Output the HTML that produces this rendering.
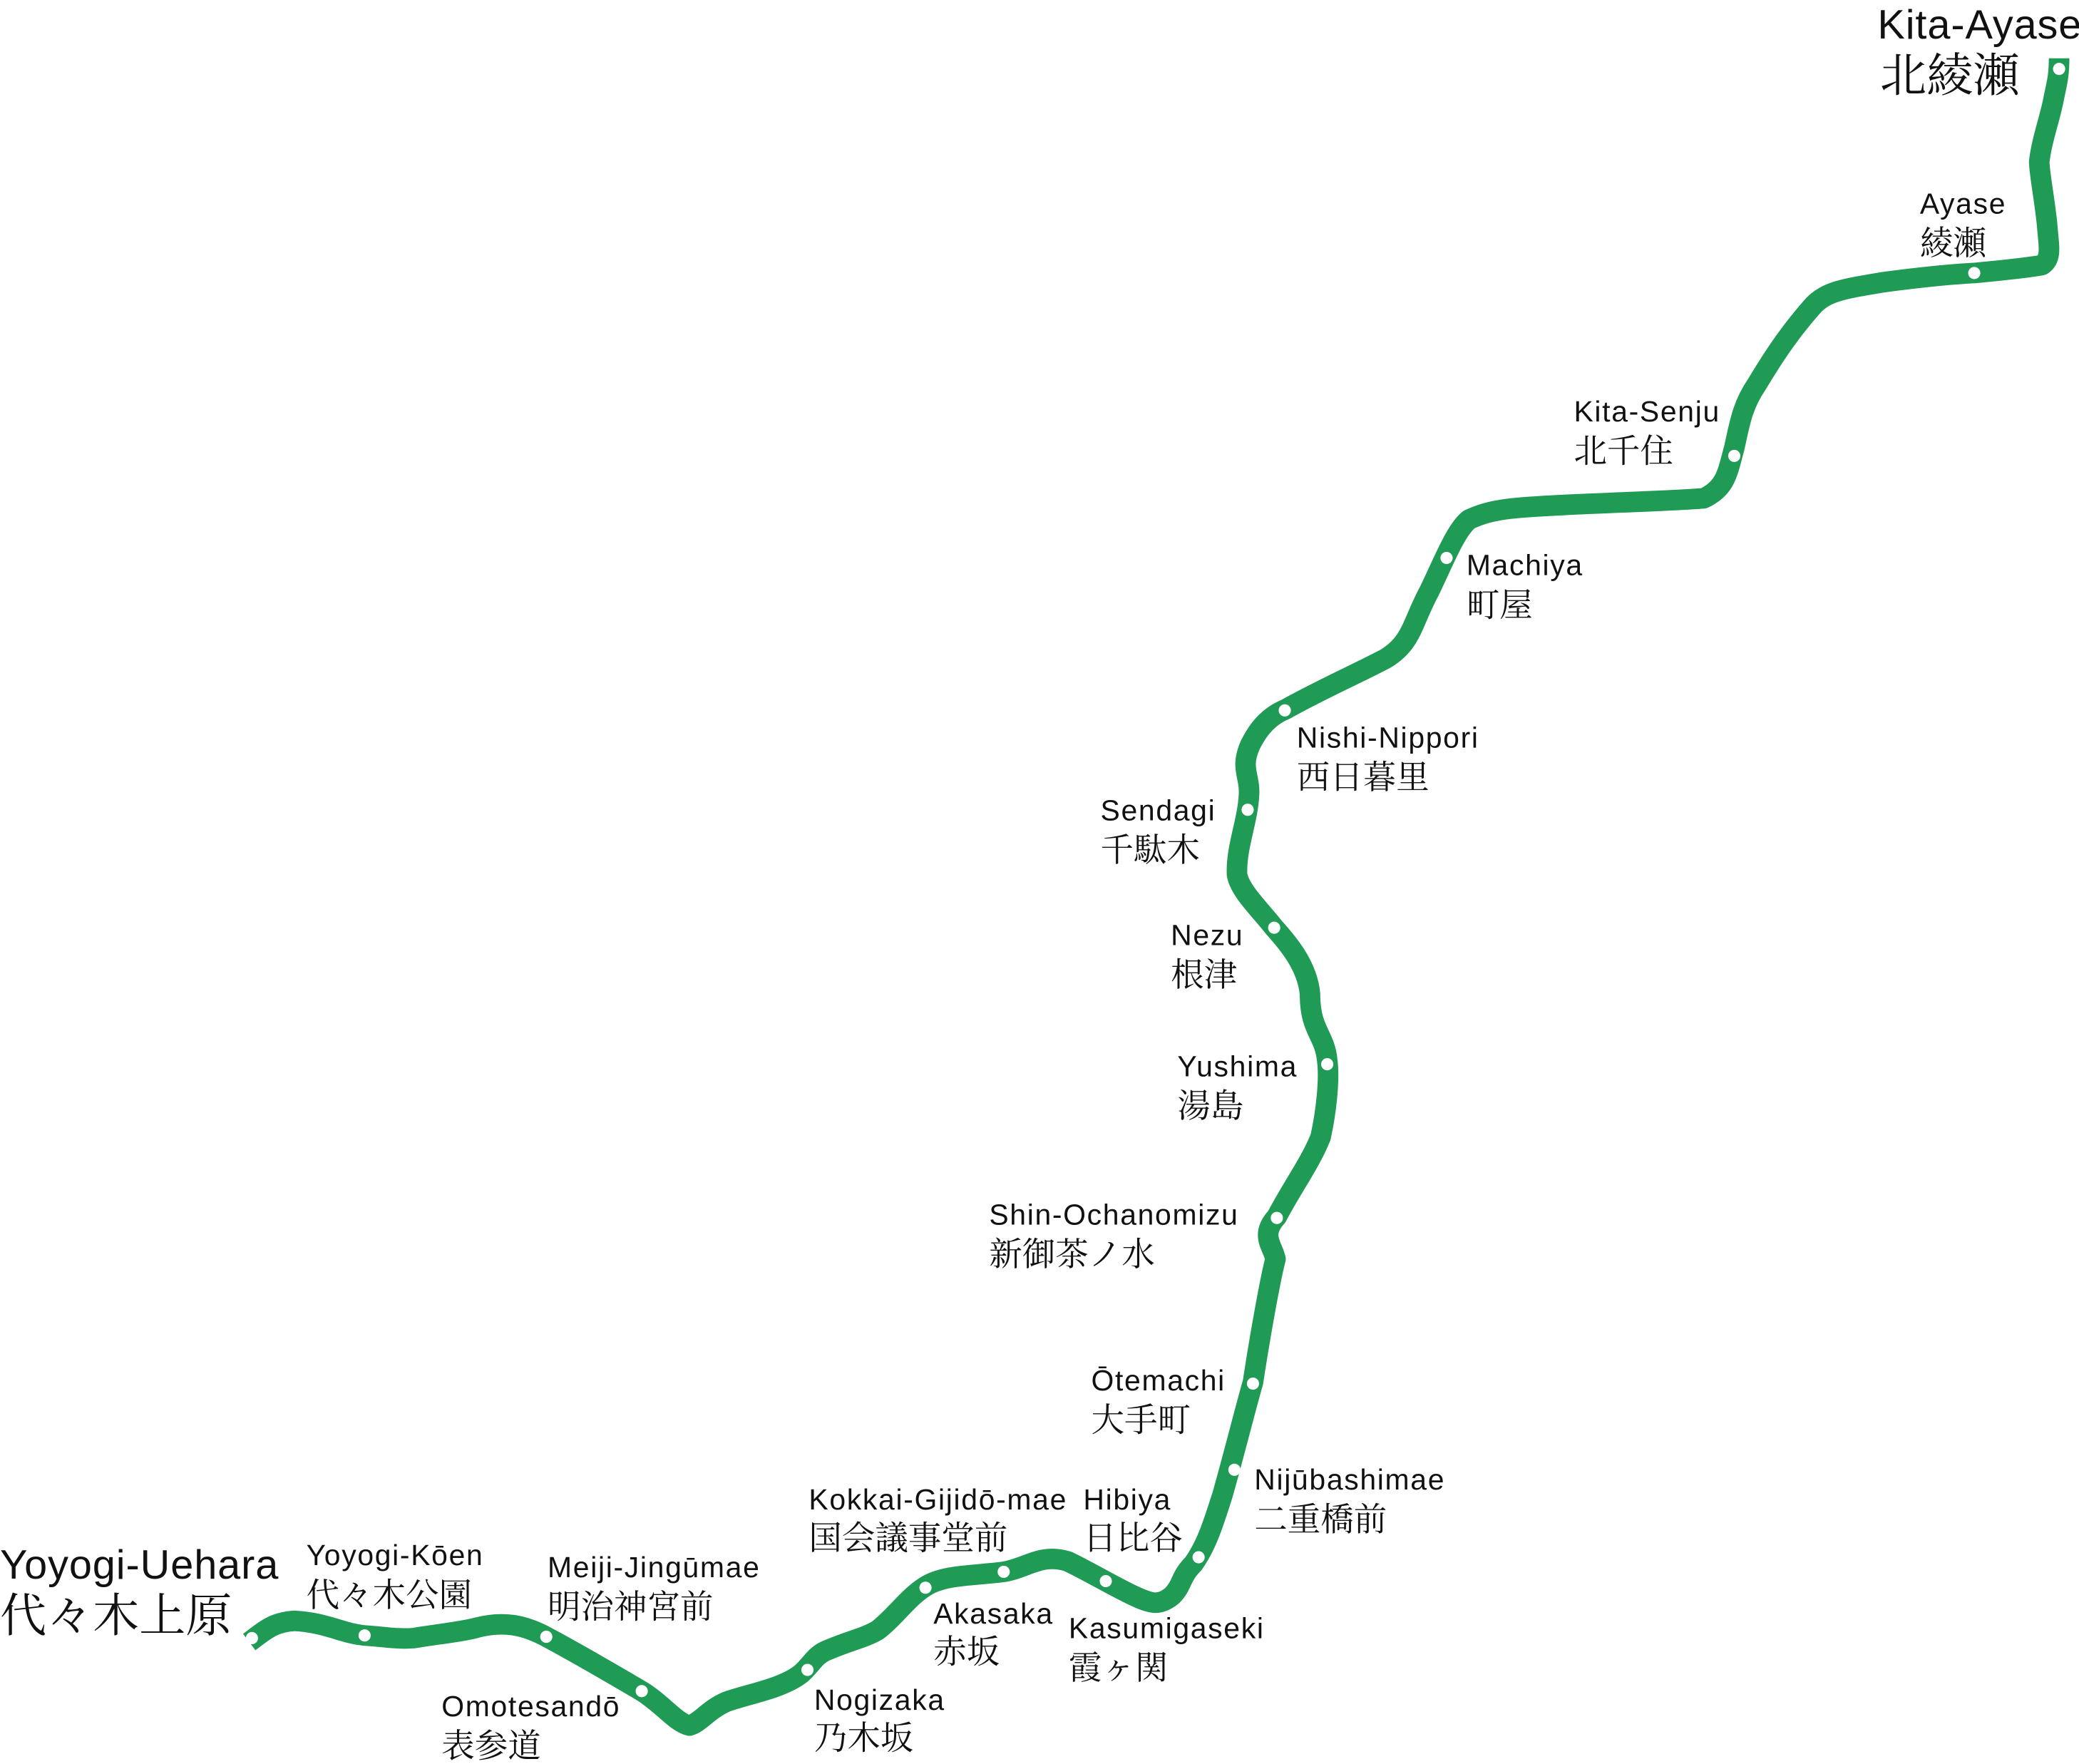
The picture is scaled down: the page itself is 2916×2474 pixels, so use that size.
<!DOCTYPE html>
<html><head><meta charset="utf-8"><style>
html,body{margin:0;padding:0;background:#fff;}
svg{display:block;}
text{font-family:"Liberation Sans","Noto Sans CJK JP",sans-serif;fill:#111;}
.en{font-size:22px;letter-spacing:0.9px;}
.jp{font-size:25px;font-family:"Noto Serif CJK SC","Liberation Serif","Noto Sans CJK JP",serif;}
.ben{font-size:31px;letter-spacing:0.5px;}
.bjp{font-size:35px;font-family:"Noto Serif CJK SC","Liberation Serif","Noto Sans CJK JP",serif;}
</style></head><body>
<svg width="2916" height="2474" viewBox="0 0 1568 1331" preserveAspectRatio="none" xmlns="http://www.w3.org/2000/svg">
<path fill="none" stroke="#209b55" stroke-width="15.5" stroke-linejoin="round" stroke-linecap="butt"
d="M188,1239 C200,1230 206,1224 222,1223 C245,1224 260,1233 275,1234 C290,1235 300,1237 312,1236 C330,1233 350,1231 360,1228 C380,1223 395,1226 412,1235 C440,1250 460,1262 484,1276 C500,1286 510,1300 520,1302 C528,1300 534,1290 548,1284 C565,1278 590,1274 604,1263 C612,1256 614,1250 622,1246 C640,1238 652,1236 662,1230 C675,1220 685,1205 698,1197 C712,1188 735,1189 757,1186 C775,1183 785,1172 805,1178 C820,1185 840,1197 855,1204 C868,1210 874,1212 884,1204 C892,1196 890,1190 900,1180 C910,1166 915,1150 922,1128 C930,1100 940,1060 945,1043 C950,1010 958,965 962,950 C960,940 950,932 963,918 C975,895 988,878 996,858 C1000,840 1003,815 1001,800 C999,780 988,778 988,750 C986,728 970,710 961,700 C950,686 935,672 933,660 C932,640 941,620 942,600 C943,585 935,580 943,562 C950,548 958,540 970,535 C995,521 1020,510 1045,497 C1065,485 1065,470 1078,446 C1090,421 1098,400 1108,392 C1125,384 1140,383 1180,381 C1220,379 1260,378 1285,376 C1302,368 1303,356 1308,338 C1312,320 1314,306 1325,290 C1340,265 1352,248 1368,230 C1378,220 1390,218 1420,213 C1450,209 1470,207 1489,206 C1510,204 1530,202 1540,200 C1548,195 1545,185 1544,170 C1542,150 1538,130 1538,122 C1540,105 1546,90 1549,74 C1551,64 1553,58 1553,44"/>
<g fill="#fff">
<circle cx="190" cy="1236" r="4.6"/>
<circle cx="275" cy="1234" r="4.6"/>
<circle cx="412" cy="1235" r="4.6"/>
<circle cx="484" cy="1276" r="4.6"/>
<circle cx="609" cy="1260" r="4.6"/>
<circle cx="698" cy="1198" r="4.6"/>
<circle cx="757" cy="1186" r="4.6"/>
<circle cx="834" cy="1193" r="4.6"/>
<circle cx="904" cy="1175" r="4.6"/>
<circle cx="931" cy="1109" r="4.6"/>
<circle cx="945" cy="1044" r="4.6"/>
<circle cx="963" cy="919" r="4.6"/>
<circle cx="1001" cy="803" r="4.6"/>
<circle cx="961" cy="700" r="4.6"/>
<circle cx="941" cy="611" r="4.6"/>
<circle cx="969" cy="536" r="4.6"/>
<circle cx="1091" cy="421" r="4.6"/>
<circle cx="1308" cy="344" r="4.6"/>
<circle cx="1489" cy="206" r="4.6"/>
<circle cx="1553" cy="52" r="4.6"/>
</g>
<g>
<text class="ben" x="0" y="1191">Yoyogi-Uehara</text>
<text class="bjp" x="0" y="1231">代々木上原</text>
<text class="en" x="231" y="1181">Yoyogi-Kōen</text>
<text class="jp" x="231" y="1212">代々木公園</text>
<text class="en" x="413" y="1190">Meiji-Jingūmae</text>
<text class="jp" x="413" y="1221">明治神宮前</text>
<text class="en" x="333" y="1295">Omotesandō</text>
<text class="jp" x="333" y="1326">表参道</text>
<text class="en" x="614" y="1290">Nogizaka</text>
<text class="jp" x="614" y="1320">乃木坂</text>
<text class="en" x="704" y="1225">Akasaka</text>
<text class="jp" x="704" y="1255">赤坂</text>
<text class="en" x="610" y="1139">Kokkai-Gijidō-mae</text>
<text class="jp" x="610" y="1169">国会議事堂前</text>
<text class="en" x="817" y="1139">Hibiya</text>
<text class="jp" x="817" y="1169">日比谷</text>
<text class="en" x="806" y="1236">Kasumigaseki</text>
<text class="jp" x="806" y="1267">霞ヶ関</text>
<text class="en" x="946" y="1124">Nijūbashimae</text>
<text class="jp" x="946" y="1155">二重橋前</text>
<text class="en" x="823" y="1049">Ōtemachi</text>
<text class="jp" x="823" y="1080">大手町</text>
<text class="en" x="746" y="924">Shin-Ochanomizu</text>
<text class="jp" x="746" y="955">新御茶ノ水</text>
<text class="en" x="888" y="812">Yushima</text>
<text class="jp" x="888" y="843">湯島</text>
<text class="en" x="883" y="713">Nezu</text>
<text class="jp" x="883" y="744">根津</text>
<text class="en" x="830" y="619">Sendagi</text>
<text class="jp" x="830" y="650">千駄木</text>
<text class="en" x="978" y="564">Nishi-Nippori</text>
<text class="jp" x="978" y="595">西日暮里</text>
<text class="en" x="1106" y="434">Machiya</text>
<text class="jp" x="1106" y="465">町屋</text>
<text class="en" x="1187" y="318">Kita-Senju</text>
<text class="jp" x="1187" y="349">北千住</text>
<text class="en" x="1448" y="161">Ayase</text>
<text class="jp" x="1448" y="192">綾瀬</text>
<text class="ben" x="1416" y="29">Kita-Ayase</text>
<text class="bjp" x="1418" y="69">北綾瀬</text>
</g>
</svg>
</body></html>
